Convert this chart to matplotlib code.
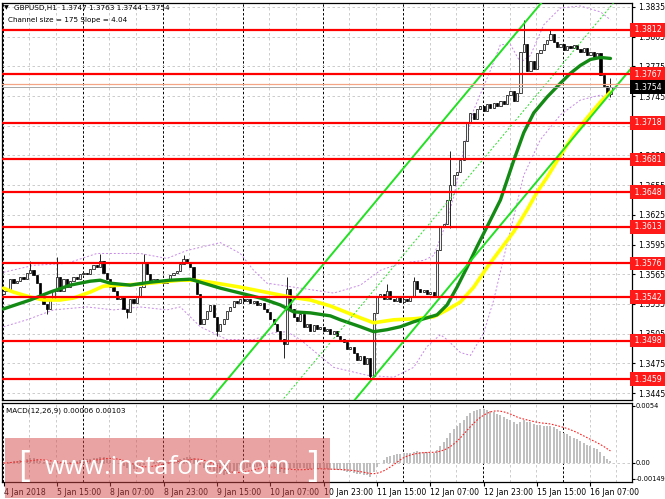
import matplotlib
matplotlib.use("Agg")
import matplotlib.pyplot as plt
import matplotlib.transforms as mtransforms
from matplotlib.patches import Rectangle
import numpy as np
import pandas as pd

W, H = 665, 499

# GBPUSD H1 closes, bar 0 = 4 Jan 23:00 ... bar 182 = 16 Jan 13:00
closes = [
    1.3548, 1.3550, 1.3560, 1.3556, 1.3558, 1.3562, 1.3560, 1.3566, 1.3569, 1.3564,
    1.3556, 1.3543, 1.3535, 1.3530, 1.3540, 1.3548, 1.3562, 1.3548, 1.3560, 1.3552,
    1.3558, 1.3562, 1.3560, 1.3565, 1.3566, 1.3565, 1.3570, 1.3574, 1.3572, 1.3578,
    1.3566, 1.3560, 1.3552, 1.3548, 1.3540, 1.3542, 1.3530, 1.3527, 1.3540, 1.3536,
    1.3542, 1.3552, 1.3577, 1.3565, 1.3556, 1.3560, 1.3557, 1.3558, 1.3556, 1.3560,
    1.3564, 1.3566, 1.3568, 1.3575, 1.3580, 1.3576, 1.3572, 1.3560, 1.3545, 1.3515,
    1.3520, 1.3528, 1.3534, 1.3522, 1.3508, 1.3515, 1.3520, 1.3528, 1.3532, 1.3538,
    1.3536, 1.3540, 1.3538, 1.3540, 1.3536, 1.3538, 1.3534, 1.3536, 1.3530, 1.3527,
    1.3520, 1.3515, 1.3508, 1.3500, 1.3495, 1.3550, 1.3530, 1.3522, 1.3518, 1.3525,
    1.3512, 1.3515, 1.3508, 1.3514, 1.3510, 1.3512, 1.3508, 1.3510, 1.3505, 1.3508,
    1.3503, 1.3500, 1.3497, 1.3490, 1.3492, 1.3485, 1.3478, 1.3482, 1.3474, 1.3480,
    1.3462, 1.3526, 1.3542, 1.3545, 1.3540, 1.3548, 1.3540, 1.3538, 1.3542, 1.3537,
    1.3540, 1.3538, 1.3542, 1.3558, 1.3550, 1.3547, 1.3549, 1.3545, 1.3547, 1.3542,
    1.3590, 1.3613, 1.3616, 1.3640, 1.3655, 1.3665, 1.3668, 1.3680, 1.3700, 1.3718,
    1.3728, 1.3722, 1.3732, 1.3735, 1.3730, 1.3737, 1.3733, 1.3738, 1.3735, 1.3740,
    1.3737, 1.3746, 1.3750, 1.3740, 1.3748, 1.3790, 1.3798, 1.3770, 1.3780, 1.3772,
    1.3788, 1.3792, 1.3798, 1.3802, 1.3808, 1.3800, 1.3795, 1.3798, 1.3792, 1.3796,
    1.3794, 1.3797, 1.3793, 1.3790, 1.3794, 1.3786, 1.3790, 1.3784, 1.3788, 1.3766,
    1.3755, 1.3747, 1.3754,
]
first_open = 1.3545
# visible wick extremes
wick_high = {8: 1.3578, 16: 1.3582, 29: 1.3585, 42: 1.3585, 54: 1.3584, 85: 1.3562,
             115: 1.3555, 123: 1.3562, 134: 1.3690, 156: 1.3822, 164: 1.3812, 182: 1.3763}
wick_low = {13: 1.3525, 37: 1.3521, 64: 1.3503, 84: 1.3480, 110: 1.3459, 134: 1.3612,
            182: 1.3744}

# moving averages
green_bars = [0, 8, 14, 20, 26, 29, 32, 38, 44, 50, 56, 59, 65, 71, 77, 83, 87, 92, 98, 101,
              107, 111, 115, 119, 123, 127, 130, 133, 136, 139, 142, 145, 149, 153, 156, 159,
              163, 167, 170, 173, 176, 179, 182]
green_ma = [1.3530, 1.3539, 1.3547, 1.3554, 1.3558, 1.3559, 1.3556, 1.3554, 1.3557, 1.3559,
            1.3560, 1.3557, 1.3551, 1.3546, 1.3541, 1.3534, 1.3527, 1.3526, 1.3523, 1.3519,
            1.3512, 1.3507, 1.3509, 1.3512, 1.3517, 1.3521, 1.3524, 1.3534, 1.3552, 1.3572,
            1.3593, 1.3613, 1.3640, 1.3680, 1.3708, 1.3728, 1.3744, 1.3758, 1.3768, 1.3776,
            1.3782, 1.3784, 1.3783]
yellow_bars = [0, 3, 8, 12, 17, 21, 26, 30, 35, 41, 47, 53, 57, 62, 71, 80, 86, 92, 98, 101,
               107, 111, 117, 123, 129, 133, 137, 141, 145, 149, 153, 157, 160, 163, 167, 171,
               175, 179, 182]
yellow_ma = [1.3551, 1.3547, 1.3542, 1.3539, 1.3539, 1.3541, 1.3547, 1.3553, 1.3554, 1.3555,
             1.3557, 1.3559, 1.3559, 1.3557, 1.3552, 1.3546, 1.3542, 1.3539, 1.3533, 1.3529,
             1.3521, 1.3516, 1.3519, 1.3520, 1.3522, 1.3529, 1.3537, 1.3552, 1.3572, 1.3590,
             1.3608, 1.3630, 1.3648, 1.3663, 1.3685, 1.3706, 1.3723, 1.3739, 1.3749]

# bands (violet dotted)
band_up_bars = [0, 9, 19, 28, 41, 49, 55, 65, 71, 75, 79, 89, 99, 107, 113, 119, 126, 129,
                132, 135, 138, 141, 146, 149, 152, 155, 158, 162, 167, 173, 179, 182]
band_up = [1.3567, 1.3574, 1.3576, 1.3586, 1.3586, 1.3581, 1.3589, 1.3597, 1.3586, 1.3569,
           1.3556, 1.3551, 1.3546, 1.3554, 1.3569, 1.3576, 1.3579, 1.3584, 1.3610, 1.3643,
           1.3691, 1.3731, 1.3771, 1.3797, 1.3797, 1.3779, 1.3786, 1.3817, 1.3834, 1.3836,
           1.3830, 1.3822]
band_dn_bars = [0, 7, 15, 25, 33, 41, 49, 53, 59, 67, 75, 81, 85, 89, 99, 109, 117, 123, 127,
                131, 133, 137, 140, 144, 147, 150, 153, 156, 161, 167, 173, 179, 182]
band_dn = [1.3512, 1.3519, 1.3529, 1.3532, 1.3529, 1.3532, 1.3529, 1.3532, 1.3512, 1.3499,
           1.3499, 1.3506, 1.3507, 1.3499, 1.3471, 1.3463, 1.3461, 1.3471, 1.3492, 1.3504,
           1.3499, 1.3486, 1.3483, 1.3506, 1.3539, 1.3582, 1.3623, 1.3665, 1.3701, 1.3726,
           1.3741, 1.3746, 1.3741]

# regression channel
channel_size = 175      # pips
slope = 4.04            # pips per bar
channel_anchor_bar = 110
channel_anchor_price = 1.3457

levels = [1.3812, 1.3767, 1.3718, 1.3681, 1.3648, 1.3613, 1.3576, 1.3542, 1.3498, 1.3459]
price_ticks = [1.3835, 1.3805, 1.3775, 1.3745, 1.3715, 1.3685, 1.3655, 1.3625,
               1.3595, 1.3565, 1.3535, 1.3505, 1.3475, 1.3445]
bid = 1.3754
ask_line = 1.3757

x_labels = ["4 Jan 2018", "5 Jan 15:00", "8 Jan 07:00", "8 Jan 23:00", "9 Jan 15:00",
            "10 Jan 07:00", "10 Jan 23:00", "11 Jan 15:00", "12 Jan 07:00", "12 Jan 23:00",
            "15 Jan 15:00", "16 Jan 07:00"]

# ---------- figure ----------
plt.rcParams['font.family'] = ['DejaVu Sans']
fig = plt.figure(figsize=(W / 100, H / 100), dpi=100)
ax = fig.add_axes([2 / W, 1 - 400 / H, 630 / W, 397 / H])
axm = fig.add_axes([2 / W, 1 - 482 / H, 630 / W, 79 / H])

xlim = (-0.45, 188.46)
n = len(closes)
x = np.arange(n)
c = np.array(closes)
o = np.array([first_open] + closes[:-1])
hi = np.maximum(o, c)
lo = np.minimum(o, c)
for b, v in wick_high.items():
    hi[b] = v
for b, v in wick_low.items():
    lo[b] = v

# grid
grid_bars = np.arange(-0.25, 189, 8)
for a in (ax, axm):
    for k, g in enumerate(grid_bars):
        if k % 3 == 0:
            a.axvline(g, color='black', lw=0.7, ls=(0, (2.5, 2)), zorder=1)
        else:
            a.axvline(g, color='#c4c4c4', lw=0.6, ls=(0, (3, 3)), zorder=1)
for p in price_ticks:
    ax.axhline(p, color='#c4c4c4', lw=0.6, ls=(0, (3, 3)), zorder=1)

# violet bands
for bb, vv in ((band_up_bars, band_up), (band_dn_bars, band_dn)):
    ax.plot(bb, vv, color='#c888e8', lw=0.7, ls=(0, (2, 2)), zorder=2)

# candles
ax.vlines(x, lo, hi, color='black', lw=0.6, zorder=3)
up = c >= o
ax.bar(x[up], (c - o)[up], bottom=o[up], width=0.66, color='#f4f4f4',
       edgecolor='black', lw=0.5, zorder=3)
ax.bar(x[~up], (c - o)[~up], bottom=o[~up], width=0.66, color='black',
       edgecolor='black', lw=0.5, zorder=3)

# moving averages
ax.plot(yellow_bars, yellow_ma, color='#ffff00', lw=2.6, zorder=4, solid_capstyle='round')
ax.plot(green_bars, green_ma, color='#138a13', lw=2.4, zorder=4, solid_capstyle='round')

# channel lines
cb = np.array([40, 192])
lower = channel_anchor_price + slope / 10000 * (cb - channel_anchor_bar)
ax.plot(cb, lower, color='#22e022', lw=1.4, zorder=4)
ax.plot(cb, lower + channel_size / 10000, color='#22e022', lw=1.4, zorder=4)
ax.plot(cb, lower + channel_size / 20000, color='#22e022', lw=0.7, ls=(0, (2, 2)), zorder=4)

# support / resistance levels
blend = mtransforms.blended_transform_factory(ax.transAxes, ax.transData)
for lv in levels:
    ax.axhline(lv, color='#ff0000', lw=1.6, zorder=5)
ax.axhline(ask_line, color='#f4a585', lw=0.9, zorder=5)
ax.axhline(bid, color='#a8a8a8', lw=0.7, zorder=5)

ax.set_xlim(*xlim)
ax.set_ylim(1.3438, 1.3839)
ax.yaxis.tick_right()
ax.set_yticks(price_ticks)
ax.set_yticklabels([f"{p:.4f}" for p in price_ticks])
ax.tick_params(axis='y', length=2, labelsize=5.6, pad=2.5)
ax.set_xticks([])
for s in ax.spines.values():
    s.set_linewidth(0.9)

for lv in levels:
    ax.text(1.0, lv, f" {lv:.4f} ", transform=blend, ha='left', va='center', fontsize=5.6,
            color='white', zorder=10, clip_on=False,
            bbox=dict(boxstyle='square,pad=0.3', fc='#ff1a1a', ec='none'))
ax.text(1.0, ask_line + 0.0003, f" {ask_line:.4f} ", transform=blend, ha='left', va='center',
        fontsize=5.6, color='white', zorder=9, clip_on=False,
        bbox=dict(boxstyle='square,pad=0.3', fc='#f4a070', ec='none'))
ax.text(1.0, bid, f" {bid:.4f} ", transform=blend, ha='left', va='center', fontsize=5.6,
        color='white', zorder=10, clip_on=False,
        bbox=dict(boxstyle='square,pad=0.3', fc='black', ec='none'))

# ---------- MACD ----------
s = pd.Series(closes)
macd = s.ewm(span=12, adjust=False).mean() - s.ewm(span=26, adjust=False).mean()
signal = macd.rolling(9, min_periods=1).mean()
axm.bar(x, macd, width=0.6, color='#c0c0c0', zorder=2)
axm.plot(x, signal, color='#ff2020', lw=0.8, ls=(0, (1.5, 1.5)), zorder=3)
axm.axhline(0, color='#c4c4c4', lw=0.6, ls=(0, (3, 3)), zorder=1)
axm.set_xlim(*xlim)
axm.set_ylim(-0.0018, 0.00568)
axm.yaxis.tick_right()
axm.set_yticks([0.0054, 0.0, -0.00149])
axm.set_yticklabels(["0.0054", "0.00", "-0.00149"])
axm.tick_params(axis='y', length=2, labelsize=4.8, pad=0.8)
axm.set_xticks(np.arange(0, 16 * len(x_labels), 16))
axm.set_xticklabels(x_labels, ha='left')
axm.tick_params(axis='x', length=3, labelsize=5.6, pad=1.5)
for s_ in axm.spines.values():
    s_.set_linewidth(0.9)

# header texts
fig.text(4 / W, 1 - 8 / H, "▼", fontsize=4.5, va='center')
fig.text(14 / W, 1 - 8 / H, "GBPUSD,H1  1.3747 1.3763 1.3744 1.3754", fontsize=5.2, va='center')
fig.text(8 / W, 1 - 20 / H, "Channel size = 175 Slope = 4.04", fontsize=5.2, va='center')
fig.text(6 / W, 1 - 411 / H, "MACD(12,26,9) 0.00006 0.00103", fontsize=5.2, va='center')

# watermark
fig.patches.append(Rectangle((5 / W, 1 - 498 / H), 325 / W, 60 / H, transform=fig.transFigure,
                             fc='#d44848', alpha=0.5, ec='none', zorder=20))
wm_font = ['Open Sans', 'DejaVu Sans']
fig.text(168 / W, 1 - 467 / H, "www.instaforex.com", fontsize=18.5, color='white',
         ha='center', va='center', zorder=21, family=wm_font)
fig.text(24 / W, 1 - 467 / H, "[", fontsize=26, color='white', ha='center', va='center',
         zorder=21, family=wm_font)
fig.text(313 / W, 1 - 467 / H, "]", fontsize=26, color='white', ha='center', va='center',
         zorder=21, family=wm_font)

fig.savefig("out.png", dpi=100)
plt.close(fig)
